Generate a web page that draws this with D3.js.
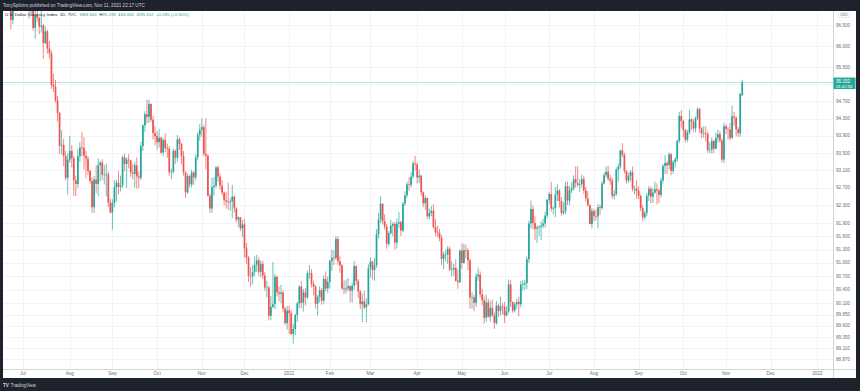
<!DOCTYPE html>
<html>
<head>
<meta charset="utf-8">
<title>DXY daily</title>
<script src="https://d3js.org/d3.v7.min.js"></script>
<style>
  body { margin: 0; background: #1e222d; }
  svg { display: block; font-family: "Liberation Sans", Arial, sans-serif; }
</style>
</head>
<body>
<div id="container"></div>
<script>
    //------------------------------DATA------------------------------//
    // TVC:DXY daily candles, 2020-06-17 .. 2021-11-11 (one value per trading day)
    const opens = [
        97.05,97.12,97.43,97.62,97.15,96.62,97.16,97.37,97.43,97.47, // Jun 20
        97.39,97.17,97.18,97.17,96.84,96.91,96.43,96.74,96.67,96.46,96.49,96.07,96.35,95.94,95.83,95.08,95.04,94.72,94.43,93.67,93.69,93.43,92.93, // Jul
        93.35,93.55,93.38,92.87,92.79,93.43,93.63,93.62,93.44,93.37,93.09,92.86,92.26,92.89,92.79,93.22,93.28,93.00,93.00,93.01,92.37, // Aug
        92.14,92.35,92.72,92.82,92.72,92.76,93.40,93.25,93.35,93.33,93.05,93.02,93.22,92.96,92.93,93.66,94.14,94.40,94.34,94.64,94.27,93.96, // Sep
        93.89,93.75,93.85,93.51,93.80,93.62,93.60,93.06,93.07,93.55,93.39,93.82,93.71,93.43,93.06,92.60,92.97,92.78,93.05,92.94,93.40,93.92, // Oct
        94.04,94.10,93.48,93.44,92.52,92.23,92.72,92.75,93.17,92.96,92.75,92.59,92.42,92.39,92.37,92.39,92.50,92.23,91.98,92.03,91.78, // Nov
        91.87,91.33,91.12,90.71,90.70,90.80,90.96,91.06,90.80,90.98,90.72,90.45,90.45,89.82,90.02,90.08,90.69,90.34,90.31,90.34,89.98,89.66, // Dec
        89.94,89.88,89.42,89.53,89.84,90.10,90.47,90.11,90.34,90.23,90.77,90.77,90.53,90.47,90.09,90.24,90.39,90.16,90.64,90.43, // Jan 21
        90.58,91.04,91.12,91.11,91.54,91.04,90.95,90.43,90.41,90.43,90.48,90.38,90.49,90.93,90.60,90.36,90.08,90.14,90.01,90.08, // Feb
        90.88,91.03,90.84,90.95,91.65,91.98,92.34,91.94,91.82,91.43,91.67,91.84,91.88,91.46,91.89,91.92,91.73,92.34,92.53,92.78,92.77,92.96,93.26, // Mar
        93.24,92.94,92.98,92.60,92.35,92.47,92.05,92.13,92.18,91.81,91.69,91.68,91.56,91.09,91.19,91.19,91.32,90.85,90.85,90.89,90.60,90.57, // Apr
        91.28,91.00,91.29,91.28,91.06,90.23,90.23,90.11,90.70,90.74,90.30,90.17,89.78,90.12,89.80,90.00,89.83,89.66,90.05,89.93,90.03, // May
        90.02,89.83,89.92,90.52,90.13,89.94,90.08,90.13,90.08,90.52,90.52,90.55,91.08,91.89,92.22,91.90,91.77,91.80,91.81,91.84,91.89,92.07, // Jun
        92.43,92.56,92.23,92.24,92.55,92.64,92.40,92.13,92.17,92.74,92.41,92.64,92.69,92.90,92.81,92.77,92.79,92.90,92.64,92.46,92.31,91.88, // Jul
        92.17,92.06,92.05,92.26,92.24,92.80,92.99,93.07,92.91,92.87,92.52,92.56,93.12,93.19,93.56,93.46,93.09,92.87,92.97,93.06,92.68,92.68, // Aug
        92.63,92.52,92.24,92.03,92.13,92.52,92.68,92.50,92.59,92.67,92.64,92.54,92.87,93.20,93.27,93.22,93.47,93.09,93.29,93.36,93.78,94.36, // Sep
        94.24,94.04,93.81,93.98,94.28,94.22,94.07,94.31,94.52,94.07,93.96,93.96,93.94,93.57,93.58,93.78,93.60,93.85,93.94,93.79,93.35, // Oct
        94.12,94.06,94.04,93.85,94.35,94.32,94.05,93.96,94.84 // Nov
    ];
    const highs = [
        97.33,97.56,97.80,97.64,97.22,97.22,97.50,97.54,97.60,97.69,
        97.53,97.23,97.31,97.18,97.05,96.97,96.85,96.91,96.70,96.86,96.52,96.47,96.39,96.12,95.90,95.35,95.20,94.83,94.45,94.03,93.83,93.55,93.49,
        93.90,93.68,93.43,92.98,93.59,93.75,93.99,93.87,93.55,93.43,93.11,92.94,92.97,93.22,93.38,93.32,93.36,93.22,93.26,93.07,92.45,
        92.44,92.87,92.89,93.09,92.98,93.45,93.49,93.40,93.48,93.34,93.25,93.30,93.40,93.07,93.76,94.16,94.47,94.74,94.74,94.65,94.37,94.13,
        94.00,94.06,93.88,93.85,93.96,93.72,93.66,93.14,93.60,93.58,93.92,93.87,93.74,93.55,93.07,93.03,93.00,93.12,93.08,93.47,93.99,94.17,
        94.30,94.16,94.30,93.47,92.57,92.93,92.95,93.20,93.21,93.03,92.88,92.62,92.60,92.82,92.46,92.77,92.53,92.26,92.05,92.04,91.97,
        92.00,91.45,91.16,90.91,90.96,91.15,91.18,91.13,91.06,91.04,90.80,90.60,90.49,90.26,91.02,90.75,90.72,90.47,90.51,90.39,90.02,90.04,
        90.04,89.95,89.65,89.87,90.13,90.50,90.59,90.42,90.44,90.83,90.95,90.86,90.60,90.50,90.28,90.48,90.44,90.72,90.81,90.70,
        91.07,91.30,91.28,91.60,91.60,91.16,90.97,90.60,90.63,90.66,90.50,90.56,91.05,90.95,90.64,90.39,90.31,90.38,90.21,90.97,
        91.13,91.05,91.11,91.76,92.13,92.51,92.34,92.10,91.88,91.72,91.97,91.92,91.93,92.00,92.15,91.95,92.38,92.62,92.84,92.94,93.06,93.32,93.44,
        93.28,93.12,93.00,92.62,92.53,92.48,92.23,92.29,92.33,91.99,91.84,91.77,91.63,91.25,91.29,91.38,91.37,91.04,90.98,91.08,90.85,91.30,
        91.44,91.43,91.41,91.33,91.10,90.34,90.28,90.77,90.90,90.81,90.43,90.25,90.29,90.20,90.16,90.18,89.90,90.15,90.09,90.25,90.10,
        90.13,90.04,90.63,90.62,90.14,90.13,90.20,90.25,90.60,90.61,90.62,91.14,91.95,92.41,92.30,92.05,91.85,91.85,91.94,92.00,92.16,92.44,
        92.61,92.84,92.28,92.72,92.78,92.67,92.49,92.38,92.84,92.84,92.74,92.83,92.99,93.19,93.20,92.90,93.00,92.98,92.72,92.63,92.32,92.24,
        92.22,92.21,92.33,92.32,92.86,93.05,93.19,93.20,93.00,92.94,92.65,93.17,93.26,93.58,93.73,93.51,93.10,93.05,93.11,93.19,92.75,92.87,
        92.74,92.55,92.31,92.18,92.58,92.74,92.73,92.69,92.84,92.80,92.68,92.94,93.25,93.45,93.32,93.52,93.50,93.34,93.41,93.81,94.45,94.50,
        94.27,94.05,94.03,94.50,94.30,94.29,94.35,94.56,94.55,94.10,94.12,94.12,94.00,93.75,93.86,93.81,93.97,94.04,94.00,93.84,94.20,
        94.17,94.11,94.20,94.60,94.45,94.35,94.10,94.90,95.20
    ];
    const lows = [
        96.95,97.03,97.15,97.05,96.39,96.52,97.00,97.14,97.28,97.28,
        97.07,96.83,97.05,96.65,96.73,96.37,96.18,96.57,96.28,96.32,95.70,96.05,95.82,95.70,94.99,94.92,94.67,94.23,93.48,93.46,93.20,92.87,92.55,
        93.28,93.17,92.52,92.51,92.70,93.30,93.42,93.12,92.92,93.00,92.80,92.13,92.13,92.58,92.51,92.85,92.88,92.78,92.51,92.26,92.12,
        91.75,92.26,92.39,92.55,92.62,92.70,93.08,92.70,93.15,92.95,92.90,92.71,92.68,92.70,92.88,93.55,93.99,94.18,94.20,94.22,93.81,93.68,
        93.58,93.63,93.48,93.43,93.52,93.39,92.98,92.90,93.03,93.25,93.30,93.57,93.25,92.98,92.47,92.56,92.71,92.71,92.77,92.87,93.33,93.78,
        93.87,93.42,93.13,92.50,92.13,92.13,92.52,92.70,92.84,92.66,92.53,92.30,92.23,92.20,92.18,92.01,92.14,91.92,91.81,91.72,91.59,
        91.12,90.98,90.58,90.47,90.52,90.70,90.80,90.72,90.68,90.64,90.38,90.23,89.72,89.73,89.99,89.97,90.25,90.14,90.10,89.90,89.62,89.52,
        89.42,89.40,89.21,89.40,89.69,89.99,89.99,89.92,90.05,90.19,90.65,90.45,90.28,89.98,89.83,90.12,90.07,90.09,90.37,90.32,
        90.43,90.82,90.95,91.07,90.95,90.78,90.40,90.30,90.32,90.37,90.12,90.11,90.40,90.51,90.22,89.97,89.68,89.97,89.68,90.05,
        90.68,90.63,90.60,90.89,91.55,91.90,91.87,91.75,91.32,91.38,91.64,91.60,91.30,91.33,91.78,91.60,91.70,92.29,92.47,92.64,92.71,92.91,93.09,
        92.80,92.82,92.52,92.26,92.20,91.99,91.98,92.05,91.77,91.60,91.59,91.49,90.96,90.86,91.03,90.98,90.82,90.69,90.72,90.58,90.42,90.55,
        90.87,90.98,91.10,90.84,89.98,89.98,89.93,90.02,90.60,90.23,90.05,89.65,89.69,89.78,89.69,89.81,89.53,89.62,89.80,89.83,89.85,
        89.66,89.81,89.88,90.02,89.89,89.90,89.98,89.81,90.01,90.38,90.40,90.42,91.00,91.78,91.75,91.51,91.45,91.60,91.51,91.78,91.80,92.00,
        92.33,92.16,92.10,92.03,92.40,92.25,92.07,92.08,92.10,92.31,92.30,92.58,92.64,92.71,92.72,92.61,92.71,92.57,92.39,92.27,91.87,91.78,
        91.94,91.96,91.78,92.08,92.20,92.78,92.94,92.86,92.77,92.45,92.43,92.52,92.84,93.14,93.41,93.03,92.80,92.81,92.85,92.62,92.55,92.45,
        92.44,92.17,91.94,91.98,92.05,92.40,92.35,92.36,92.57,92.33,92.35,92.48,92.80,93.02,93.02,93.12,92.99,93.02,93.17,93.30,93.73,94.09,
        93.87,93.75,93.76,93.93,94.04,94.00,93.98,94.26,93.96,93.84,93.86,93.77,93.50,93.50,93.49,93.50,93.59,93.74,93.74,93.28,93.27,
        93.94,93.81,93.80,93.83,94.13,93.89,93.87,93.88,94.84
    ];
    const closes = [
        97.12,97.43,97.62,97.15,96.62,97.16,97.37,97.43,97.47,97.39,
        97.17,97.18,97.17,96.84,96.91,96.43,96.74,96.67,96.46,96.49,96.07,96.35,95.94,95.83,95.08,95.04,94.72,94.43,93.67,93.69,93.43,92.93,93.35,
        93.55,93.38,92.87,92.79,93.43,93.63,93.62,93.44,93.37,93.09,92.86,92.26,92.89,92.79,93.22,93.28,93.00,93.00,93.01,92.37,92.14,
        92.35,92.72,92.82,92.72,92.76,93.40,93.25,93.35,93.33,93.05,93.02,93.22,92.96,92.93,93.66,94.14,94.40,94.34,94.64,94.27,93.96,93.89,
        93.75,93.85,93.51,93.80,93.62,93.60,93.06,93.07,93.55,93.39,93.82,93.71,93.43,93.06,92.60,92.97,92.78,93.05,92.94,93.40,93.92,94.04,
        94.10,93.48,93.44,92.52,92.23,92.72,92.75,93.17,92.96,92.75,92.59,92.42,92.39,92.37,92.39,92.50,92.23,91.98,92.03,91.78,91.87,
        91.33,91.12,90.71,90.70,90.80,90.96,91.06,90.80,90.98,90.72,90.45,90.45,89.82,90.02,90.08,90.69,90.34,90.31,90.34,89.98,89.66,89.94,
        89.88,89.42,89.53,89.84,90.10,90.47,90.11,90.34,90.23,90.77,90.77,90.53,90.47,90.09,90.24,90.39,90.16,90.64,90.43,90.58,
        91.04,91.12,91.11,91.54,91.04,90.95,90.43,90.41,90.43,90.48,90.38,90.49,90.93,90.60,90.36,90.08,90.14,90.01,90.08,90.88,
        91.03,90.84,90.95,91.65,91.98,92.34,91.94,91.82,91.43,91.67,91.84,91.88,91.46,91.89,91.92,91.73,92.34,92.53,92.78,92.77,92.96,93.26,93.24,
        92.94,92.98,92.60,92.35,92.47,92.05,92.13,92.18,91.81,91.69,91.68,91.56,91.09,91.19,91.19,91.32,90.85,90.85,90.89,90.60,90.57,91.28,
        91.00,91.29,91.28,91.06,90.23,90.23,90.11,90.70,90.74,90.30,90.17,89.78,90.12,89.80,90.00,89.83,89.66,90.05,89.93,90.03,90.02,
        89.83,89.92,90.52,90.13,89.94,90.08,90.13,90.08,90.52,90.52,90.55,91.08,91.89,92.22,91.90,91.77,91.80,91.81,91.84,91.89,92.07,92.43,
        92.56,92.23,92.24,92.55,92.64,92.40,92.13,92.17,92.74,92.41,92.64,92.69,92.90,92.81,92.77,92.79,92.90,92.64,92.46,92.31,91.88,92.17,
        92.06,92.05,92.26,92.24,92.80,92.99,93.07,92.91,92.87,92.52,92.56,93.12,93.19,93.56,93.46,93.09,92.87,92.97,93.06,92.68,92.68,92.63,
        92.52,92.24,92.03,92.13,92.52,92.68,92.50,92.59,92.67,92.64,92.54,92.87,93.20,93.27,93.22,93.47,93.09,93.29,93.36,93.78,94.36,94.24,
        94.04,93.81,93.98,94.28,94.22,94.07,94.31,94.52,94.07,93.96,93.96,93.94,93.57,93.58,93.78,93.60,93.85,93.94,93.79,93.35,94.12,
        94.06,94.04,93.85,94.35,94.32,94.05,93.96,94.87,95.15
    ];

    const priceTicks = [96.5, 96.0, 95.5, 95.1, 94.7, 94.3, 93.9, 93.5, 93.1, 92.7, 92.3, 91.9, 91.6,
        91.3, 91.0, 90.7, 90.4, 90.1, 89.85, 89.6, 89.35, 89.11, 88.87];
    const lastPrice = 95.152;
    const countdown = "01:42:56";
    const holidays = ["2020-12-25", "2021-01-01"];

    //---------------------------PREPARATION---------------------------//
    const width = 860, height = 391;
    const frame = {left: 3, top: 11, right: 833, bottom: 369, axisRight: 856, footer: 378};
    const upColor = "#26a69a", downColor = "#ef5350";
    const gridColor = "#f0f3fa", axisText = "#6a6d78";

    const fmtDay = d3.timeFormat("%Y-%m-%d");
    // trading calendar: weekdays without the two closures, extended into the future for the time axis
    const days = d3.timeDay.range(new Date(2020, 5, 17), new Date(2022, 0, 12))
        .filter(d => d.getDay() % 6 !== 0 && !holidays.includes(fmtDay(d)));

    const bars = closes.map((c, i) => ({
        date: days[i], o: opens[i], h: highs[i], l: lows[i], c: c
    }));

    const idxOf = s => days.findIndex(d => fmtDay(d) === s);

    const x = d3.scaleLinear()
        .domain([idxOf("2020-07-01"), idxOf("2021-11-01")])
        .range([23, 726]);
    const y = d3.scaleLog()
        .domain([88.87, 96.5])
        .range([359, 25]);

    // month ticks at the first trading day of each month
    const monthTicks = [];
    days.forEach((d, i) => {
        if (i > 0 && d.getMonth() !== days[i - 1].getMonth()) {
            monthTicks.push({i: i, label: d.getMonth() === 0 ? d3.timeFormat("%Y")(d) : d3.timeFormat("%b")(d)});
        }
    });

    const svg = d3.select("#container").append("svg")
        .attr("width", width)
        .attr("height", height);

    //----------------------------BACKGROUND---------------------------//
    svg.append("rect").attr("width", width).attr("height", height).attr("fill", "#1e222d");
    svg.append("rect")
        .attr("x", frame.left).attr("y", frame.top)
        .attr("width", frame.axisRight - frame.left)
        .attr("height", frame.footer - frame.top)
        .attr("fill", "#ffffff");

    svg.append("defs").append("clipPath").attr("id", "plot")
        .append("rect")
        .attr("x", frame.left).attr("y", frame.top)
        .attr("width", frame.right - frame.left)
        .attr("height", frame.bottom - frame.top);

    //------------------------------GRID-------------------------------//
    const grid = svg.append("g").attr("clip-path", "url(#plot)");
    grid.selectAll(".hgrid").data(priceTicks).enter().append("line")
        .attr("x1", frame.left).attr("x2", frame.right)
        .attr("y1", d => Math.round(y(d)) + 0.5).attr("y2", d => Math.round(y(d)) + 0.5)
        .attr("stroke", gridColor).attr("stroke-width", 1);
    grid.selectAll(".vgrid").data(monthTicks).enter().append("line")
        .attr("x1", d => Math.round(x(d.i)) + 0.5).attr("x2", d => Math.round(x(d.i)) + 0.5)
        .attr("y1", frame.top).attr("y2", frame.bottom)
        .attr("stroke", gridColor).attr("stroke-width", 1);

    //-----------------------------CANDLES-----------------------------//
    const plot = svg.append("g").attr("clip-path", "url(#plot)");

    // last price line
    plot.append("line")
        .attr("x1", frame.left).attr("x2", frame.right)
        .attr("y1", Math.round(y(lastPrice)) + 0.5).attr("y2", Math.round(y(lastPrice)) + 0.5)
        .attr("stroke", upColor).attr("stroke-opacity", 0.3);

    const candle = plot.selectAll(".candle").data(bars).enter().append("g");
    candle.append("line")
        .attr("x1", (d, i) => x(i)).attr("x2", (d, i) => x(i))
        .attr("y1", d => y(d.h)).attr("y2", d => y(d.l))
        .attr("stroke", d => d.c >= d.o ? upColor : downColor)
        .attr("stroke-width", 0.7);
    candle.append("rect")
        .attr("x", (d, i) => x(i) - 0.85)
        .attr("width", 1.7)
        .attr("y", d => y(Math.max(d.o, d.c)))
        .attr("height", d => Math.max(0.6, Math.abs(y(d.o) - y(d.c))))
        .attr("fill", d => d.c >= d.o ? upColor : downColor);

    //------------------------------AXES-------------------------------//
    svg.append("line")
        .attr("x1", frame.right + 0.5).attr("x2", frame.right + 0.5)
        .attr("y1", frame.top).attr("y2", frame.footer)
        .attr("stroke", "#d1d4dc");
    svg.append("line")
        .attr("x1", frame.left).attr("x2", frame.axisRight)
        .attr("y1", frame.bottom + 0.5).attr("y2", frame.bottom + 0.5)
        .attr("stroke", "#d1d4dc");

    svg.append("g").selectAll("text")
        .data(priceTicks.filter(d => Math.abs(y(d) - y(lastPrice)) > 6))
        .enter().append("text")
        .attr("x", frame.right + 3)
        .attr("y", d => y(d) + 1.5)
        .attr("font-size", 4.6)
        .attr("fill", axisText)
        .text(d3.format(".3f"));

    svg.append("g").selectAll("text")
        .data(monthTicks.filter(d => x(d.i) < frame.right - 6))
        .enter().append("text")
        .attr("x", d => x(d.i))
        .attr("y", frame.bottom + 6.3)
        .attr("text-anchor", "middle")
        .attr("font-size", 4.6)
        .attr("fill", axisText)
        .text(d => d.label);

    // currency badge
    svg.append("rect")
        .attr("x", 838.5).attr("y", 12.5).attr("width", 11).attr("height", 5)
        .attr("rx", 1).attr("fill", "#fff").attr("stroke", "#d1d4dc").attr("stroke-width", 0.5);
    svg.append("text")
        .attr("x", 844).attr("y", 16.3).attr("text-anchor", "middle")
        .attr("font-size", 3.6).attr("fill", axisText).text("USD");

    // last price label
    const py = y(lastPrice);
    svg.append("rect")
        .attr("x", frame.right + 0.5).attr("y", py - 4.5)
        .attr("width", 22).attr("height", 11.5)
        .attr("fill", upColor);
    svg.append("text")
        .attr("x", frame.right + 3).attr("y", py + 1.2)
        .attr("font-size", 4.6).attr("fill", "#fff").text(d3.format(".3f")(lastPrice));
    svg.append("text")
        .attr("x", frame.right + 3).attr("y", py + 5.8)
        .attr("font-size", 4.2).attr("fill", "#fff").text(countdown);

    //-----------------------------LEGEND------------------------------//
    const prevClose = 94.867;
    const change = lastPrice - prevClose;
    const legend = svg.append("text")
        .attr("x", 5).attr("y", 16)
        .attr("font-size", 4.4)
        .attr("fill", "#131722");
    legend.append("tspan").text("U.S. Dollar Currency Index, 1D, TVC");
    const f3 = d3.format(".3f");
    [["O", "94.844"], ["H", "95.196"], ["L", "94.841"], ["C", f3(lastPrice)]].forEach((p, k) => {
        legend.append("tspan").attr("dx", k === 0 ? 3.5 : 2.5).text(p[0]);
        legend.append("tspan").attr("fill", upColor).text(p[1]);
    });
    legend.append("tspan").attr("dx", 2.5).attr("fill", upColor)
        .text("+" + f3(change) + " (+" + d3.format(".2f")(change / prevClose * 100) + "%)");

    //---------------------------TITLE/FOOTER--------------------------//
    svg.append("text")
        .attr("x", 3).attr("y", 7.2)
        .attr("font-size", 4.6)
        .attr("fill", "#d1d4dc")
        .text("TonySpilotro published on TradingView.com, Nov 11, 2021 22:17 UTC");

    const footer = svg.append("g").attr("transform", "translate(3,386.5)");
    footer.append("text")
        .attr("font-size", 4.6).attr("font-weight", "bold").attr("fill", "#d1d4dc")
        .text("TV");
    footer.append("text")
        .attr("x", 7.5)
        .attr("font-size", 4.6).attr("fill", "#d1d4dc")
        .text("TradingView");
</script>
</body>
</html>
